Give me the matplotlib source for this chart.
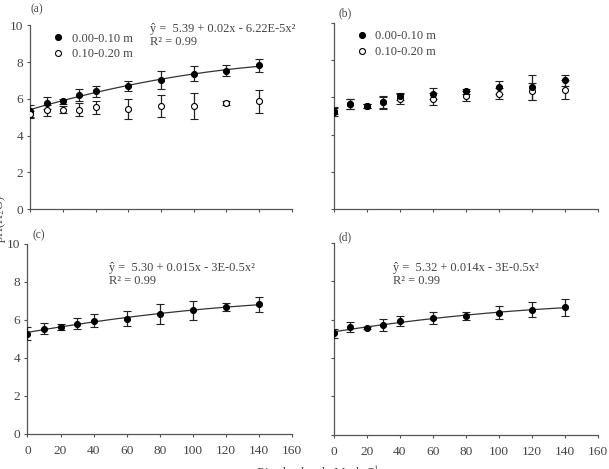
import matplotlib
matplotlib.use("Agg")
import matplotlib.pyplot as plt
from matplotlib.lines import Line2D
import matplotlib.transforms as mtransforms
import numpy as np

# Rice husk ash doses (Mg ha-1)
doses = [0, 10, 20, 30, 40, 60, 80, 100, 120, 140]

# (a) two depths
a_top = [5.32, 5.77, 5.86, 6.22, 6.41, 6.68, 7.04, 7.37, 7.53, 7.82]
a_top_err = [0.36, 0.33, 0.15, 0.33, 0.30, 0.27, 0.50, 0.40, 0.30, 0.35]
a_sub = [5.17, 5.37, 5.41, 5.41, 5.54, 5.46, 5.63, 5.63, 5.77, 5.86]
a_sub_err = [0.18, 0.30, 0.20, 0.36, 0.36, 0.55, 0.60, 0.70, 0.09, 0.62]

# (b) two depths
b_top = [5.20, 5.65, 5.56, 5.73, 6.06, 6.20, 6.33, 6.54, 6.54, 6.92]
b_top_err = [0.22, 0.28, 0.10, 0.30, 0.20, 0.30, 0.13, 0.35, 0.65, 0.28]
b_sub = [5.29, 5.65, 5.56, 5.73, 5.91, 5.93, 6.06, 6.20, 6.33, 6.42]
b_sub_err = [0.20, 0.28, 0.10, 0.33, 0.25, 0.33, 0.27, 0.30, 0.45, 0.50]

# (c) and (d)
c_vals = [5.28, 5.54, 5.61, 5.79, 5.96, 6.07, 6.32, 6.51, 6.67, 6.81]
c_err = [0.33, 0.28, 0.15, 0.29, 0.35, 0.41, 0.53, 0.50, 0.20, 0.40]
d_vals = [5.29, 5.60, 5.58, 5.72, 5.93, 6.07, 6.19, 6.36, 6.53, 6.64]
d_err = [0.22, 0.26, 0.06, 0.30, 0.25, 0.32, 0.19, 0.33, 0.40, 0.43]

depth_labels = ["0.00-0.10 m", "0.10-0.20 m"]

eq_a = "ŷ =  5.39 + 0.02x - 6.22E-5x²\nR² = 0.99"
eq_c = "ŷ =  5.30 + 0.015x - 3E-0.5x²\nR² = 0.99"
eq_d = "ŷ =  5.32 + 0.014x - 3E-0.5x²\nR² = 0.99"

plt.rcParams['font.family'] = ['Liberation Serif', 'DejaVu Serif']
plt.rcParams['mathtext.fontset'] = 'stix'
plt.rcParams['font.size'] = 8.6
txt_col = "#444444"
ax_col = "#555555"

fig = plt.figure(figsize=(6.09, 4.69), dpi=100)
ax_a = fig.add_axes([0.050, 0.554, 0.429, 0.392])
ax_b = fig.add_axes([0.548, 0.554, 0.434, 0.397])
ax_c = fig.add_axes([0.045, 0.075, 0.435, 0.405])
ax_d = fig.add_axes([0.548, 0.073, 0.434, 0.409])


def style(ax, letter, ylabels, xlabels, dx, dy):
    ax.set_xlim(0, 160)
    ax.set_ylim(0, 10)
    ax.set_xticks(np.arange(0, 161, 20))
    ax.set_yticks(np.arange(0, 11, 2))
    for s in ["top", "right"]:
        ax.spines[s].set_visible(False)
    for s in ["left", "bottom"]:
        ax.spines[s].set_color(ax_col)
        ax.spines[s].set_linewidth(0.9)
    ax.tick_params(colors=ax_col, labelcolor=txt_col, length=2.5, width=0.8,
                   labelsize=9.6, labelleft=ylabels, labelbottom=xlabels)
    ax.tick_params(axis="x", pad=5.5)
    ax.tick_params(axis="y", pad=2.5)
    # panel letter, offset in pixels from the top-left corner of the axes
    off = mtransforms.offset_copy(ax.transAxes, fig=fig, x=dx, y=dy,
                                  units="dots")
    ax.text(0.0, 1.0, letter, transform=off, color=txt_col,
            fontsize=8.3, va="center", ha="left")


def series(ax, y, err, filled):
    ax.errorbar(doses, y, yerr=err, fmt="o", ms=4.3, capsize=2.8,
                elinewidth=0.9, capthick=0.9, ecolor="#222222",
                mec="black", mfc="black" if filled else "white",
                mew=0.8, zorder=3)


def fit(ax, y):
    coef = np.polyfit(doses, y, 2)
    xs = np.linspace(0, 140, 200)
    ax.plot(xs, np.polyval(coef, xs), color="#333333", lw=0.9, zorder=2)


def depth_legend(ax):
    handles = [Line2D([], [], ls="", marker="o", ms=4.3, mec="black",
                      mfc=fc, mew=0.8) for fc in ("black", "white")]
    leg = ax.legend(handles, depth_labels, loc="upper left",
                    bbox_to_anchor=(0.04, 1.02), frameon=False,
                    handlelength=1.0, handletextpad=0.6,
                    labelspacing=0.3, fontsize=8.9)
    for t in leg.get_texts():
        t.set_color(txt_col)


# (a)
fit(ax_a, a_top)
series(ax_a, a_top, a_top_err, True)
series(ax_a, a_sub, a_sub_err, False)
ax_a.text(73, 10.1, eq_a, color=txt_col, va="top", linespacing=1.1,
          fontsize=8.9)
style(ax_a, "(a)", True, False, 0, 16)
depth_legend(ax_a)

# (b)
series(ax_b, b_sub, b_sub_err, False)
series(ax_b, b_top, b_top_err, True)
style(ax_b, "(b)", False, False, 5, 10)
depth_legend(ax_b)

# (c)
fit(ax_c, c_vals)
series(ax_c, c_vals, c_err, True)
ax_c.text(49, 9.05, eq_c, color=txt_col, va="top", linespacing=1.1,
          fontsize=8.9)
style(ax_c, "(c)", True, True, 5, 9)

# (d)
fit(ax_d, d_vals)
series(ax_d, d_vals, d_err, True)
ax_d.text(36, 9.0, eq_d, color=txt_col, va="top", linespacing=1.1,
          fontsize=8.9)
style(ax_d, "(d)", False, True, 5, 6)

fig.text(0.0, 0.533, "pH(H$_2$O)", rotation=90, ha="center", va="center",
         color=txt_col, fontsize=9)
fig.text(0.522, 0.011, "Rice husk ash, Mg ha$^{-1}$", ha="center", va="top",
         color=txt_col, fontsize=9.3)

fig.savefig("out.png", dpi=100)
